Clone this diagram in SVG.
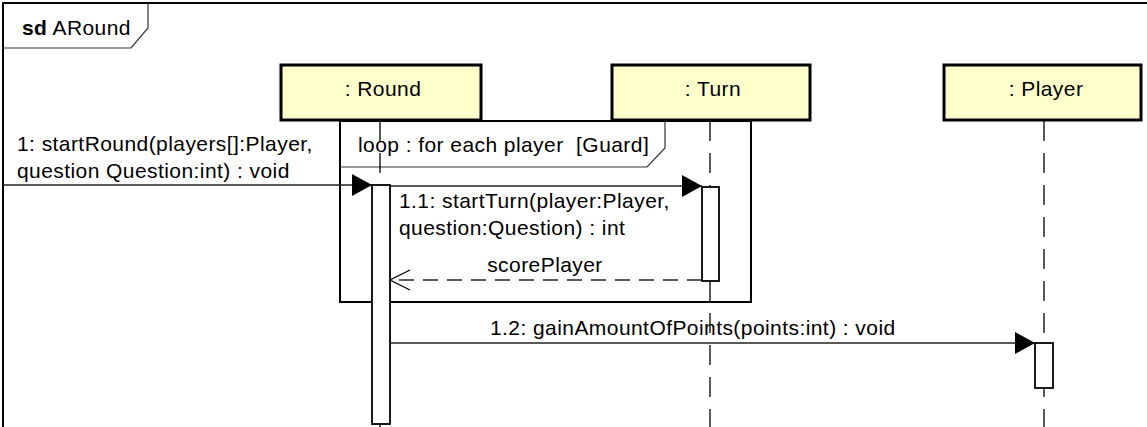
<svg xmlns="http://www.w3.org/2000/svg" width="1147" height="427" viewBox="0 0 1147 427">
<style>
  text { font-family: "Liberation Sans", Arial, sans-serif; font-size: 21px; letter-spacing: 0.43px; fill: #000; }
  .head { fill: #ffffcc; stroke: #000; stroke-width: 3; }
  .life { stroke: #000; stroke-width: 1.3; stroke-dasharray: 20 12; fill: none; }
  .act { fill: #fff; stroke: #000; stroke-width: 1.8; }
  .msg { stroke: #222; stroke-width: 1.3; fill: none; }
  .ret { stroke: #222; stroke-width: 1.3; fill: none; stroke-dasharray: 15 9; }
  .frame { fill: none; stroke: #000; stroke-width: 2; }
  .tab { fill: none; stroke: #333; stroke-width: 1.2; }
  .mid { text-anchor: middle; }
</style>
<defs>
  <marker id="fill" markerWidth="22" markerHeight="24" refX="20" refY="11" orient="auto" markerUnits="userSpaceOnUse">
    <path d="M0,0 L20,11 L0,22 Z" fill="#000"/>
  </marker>
  <marker id="open" markerWidth="24" markerHeight="24" refX="21" refY="11" orient="auto" markerUnits="userSpaceOnUse">
    <path d="M1,1 L21,11 L1,21" fill="none" stroke="#000" stroke-width="1.3"/>
  </marker>
</defs>
<rect width="1147" height="427" fill="#fff"/>

<g id="frame-sd">
  <rect class="frame" x="3" y="3" width="1160" height="440"/>
  <path class="tab" d="M3,48 L131,48 L148,28 L148,3"/>
  <text x="22" y="35"><tspan font-weight="bold">sd</tspan> ARound</text>
</g>

<g id="loop-frame">
  <rect class="frame" x="340" y="121" width="411" height="181"/>
  <path class="tab" d="M340,167 L647,167 L665,148 L665,121"/>
  <text x="358" y="152" xml:space="preserve">loop : for each player  [Guard]</text>
</g>

<g id="node-round">
  <line class="life" x1="380" y1="121" x2="380" y2="427"/>
  <rect class="head" x="281" y="65" width="200" height="55"/>
  <text class="mid" x="383" y="96">: Round</text>
  <rect class="act" x="372" y="185" width="18" height="239"/>
</g>

<g id="node-turn">
  <line class="life" x1="710" y1="121" x2="710" y2="427"/>
  <rect class="head" x="612" y="65" width="198" height="55"/>
  <text class="mid" x="713" y="96">: Turn</text>
  <rect class="act" x="702" y="187" width="17" height="94"/>
</g>

<g id="node-player">
  <line class="life" x1="1044" y1="121" x2="1044" y2="427"/>
  <rect class="head" x="944" y="65" width="197" height="55"/>
  <text class="mid" x="1046" y="96">: Player</text>
  <rect class="act" x="1035" y="343" width="18" height="45"/>
</g>

<g id="connectors">
  <line class="msg" x1="3" y1="185" x2="372" y2="185" marker-end="url(#fill)"/>
  <text x="17" y="151">1: startRound(players[]:Player,</text>
  <text x="17" y="178">question Question:int) : void</text>

  <line class="msg" x1="390" y1="186" x2="702" y2="186" marker-end="url(#fill)"/>
  <text x="399" y="208">1.1: startTurn(player:Player,</text>
  <text x="399" y="235">question:Question) : int</text>

  <line class="ret" x1="702" y1="280" x2="390" y2="280" marker-end="url(#open)"/>
  <text class="mid" x="545" y="272">scorePlayer</text>

  <line class="msg" x1="390" y1="343" x2="1035" y2="343" marker-end="url(#fill)"/>
  <text x="490" y="335">1.2: gainAmountOfPoints(points:int) : void</text>
</g>
</svg>
